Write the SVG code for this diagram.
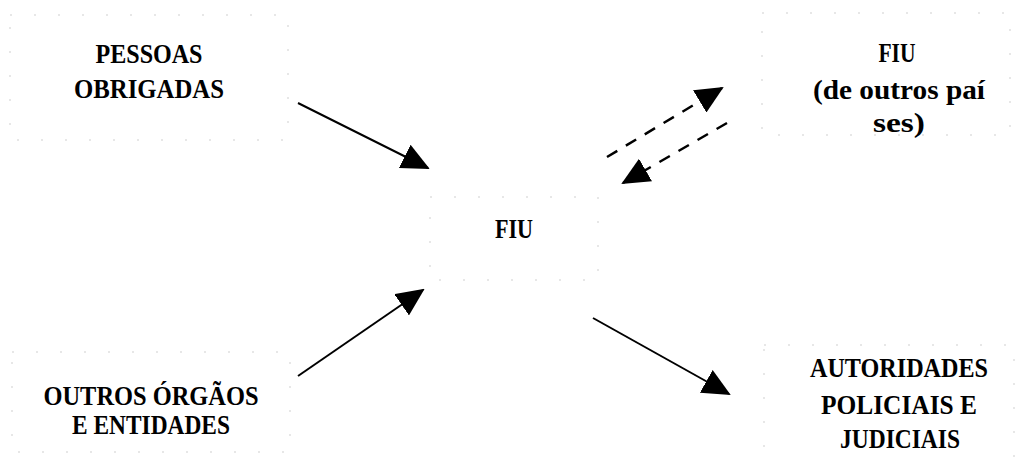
<svg xmlns="http://www.w3.org/2000/svg" width="1035" height="467" viewBox="0 0 1035 467">
<style>
  .bg { fill: #ffffff; }
  .box { fill: none; stroke: #cfcfcf; stroke-width: 1; stroke-dasharray: 2 22; }
  .lbl { font-family: "Liberation Serif", "DejaVu Serif", serif; font-weight: bold; font-size: 27px; fill: #000; text-anchor: middle; }
  .solid { fill: none; stroke: #000; stroke-width: 2; }
  .dash { fill: none; stroke: #000; stroke-width: 2.5; stroke-dasharray: 12 10; }
</style>
<defs>
  <marker id="head" viewBox="0 0 28 26" refX="26" refY="13" markerWidth="28" markerHeight="26" markerUnits="userSpaceOnUse" orient="auto">
    <path d="M0,0 L28,13 L0,26 Z" fill="#000"/>
  </marker>
</defs>
<rect class="bg" x="0" y="0" width="1035" height="467"/>

<g id="pessoas-obrigadas">
  <rect class="box" x="10" y="15" width="278" height="125"/>
  <text class="lbl" x="149" y="63" textLength="107" lengthAdjust="spacingAndGlyphs">PESSOAS</text>
  <text class="lbl" x="149" y="98" textLength="150" lengthAdjust="spacingAndGlyphs">OBRIGADAS</text>
</g>

<g id="fiu-outros-paises">
  <rect class="box" x="762" y="13" width="248" height="122"/>
  <text class="lbl" x="897" y="62" textLength="37" lengthAdjust="spacingAndGlyphs">FIU</text>
  <text class="lbl" x="899" y="99" textLength="172" lengthAdjust="spacingAndGlyphs">(de outros paí</text>
  <text class="lbl" x="899" y="132" textLength="52" lengthAdjust="spacingAndGlyphs">ses)</text>
</g>

<g id="fiu">
  <rect class="box" x="430" y="197" width="168" height="83"/>
  <text class="lbl" x="514" y="238" textLength="38" lengthAdjust="spacingAndGlyphs">FIU</text>
</g>

<g id="outros-orgaos">
  <rect class="box" x="12" y="352" width="278" height="100"/>
  <text class="lbl" x="151" y="405" textLength="215" lengthAdjust="spacingAndGlyphs">OUTROS ÓRGÃOS</text>
  <text class="lbl" x="151" y="434" textLength="158" lengthAdjust="spacingAndGlyphs">E ENTIDADES</text>
</g>

<g id="autoridades">
  <rect class="box" x="764" y="345" width="250" height="125"/>
  <text class="lbl" x="899" y="377" textLength="178" lengthAdjust="spacingAndGlyphs">AUTORIDADES</text>
  <text class="lbl" x="899" y="414" textLength="156" lengthAdjust="spacingAndGlyphs">POLICIAIS E</text>
  <text class="lbl" x="900" y="448" textLength="120" lengthAdjust="spacingAndGlyphs">JUDICIAIS</text>
</g>

<g id="connectors">
  <line class="solid" x1="298" y1="103" x2="428" y2="168" marker-end="url(#head)"/>
  <line class="dash" x1="607" y1="157" x2="722" y2="88" marker-end="url(#head)"/>
  <line class="dash" x1="727" y1="123" x2="623" y2="183" marker-end="url(#head)"/>
  <line class="solid" x1="298" y1="376" x2="423" y2="290" marker-end="url(#head)"/>
  <line class="solid" x1="593" y1="318" x2="729" y2="394" marker-end="url(#head)"/>
</g>
</svg>
